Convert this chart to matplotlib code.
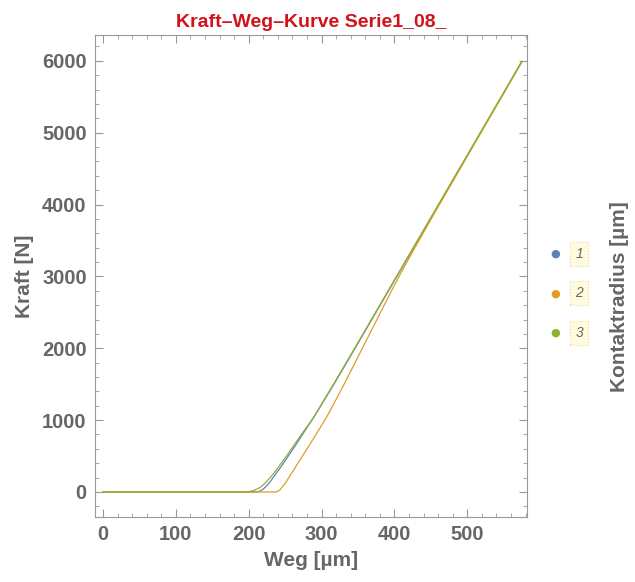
import matplotlib.pyplot as plt
from matplotlib.ticker import MultipleLocator

plt.rcParams['font.family'] = ['Liberation Sans', 'DejaVu Sans']

# Kraft-Weg-Kurven, Werte
weg_1 = [0, 100, 200, 212, 216, 220, 225, 230, 237, 245, 255, 265, 277, 290, 317, 346, 375, 409, 455, 504, 540, 575]
kraft_1 = [0, 0, 0, 0, 15, 40, 90, 150, 250, 360, 510, 660, 850, 1050, 1500, 2000, 2505, 3097, 3897, 4750, 5377, 5990]

weg_2 = [0, 100, 200, 237, 240, 243, 246, 250, 257, 265, 275, 285, 296, 308, 330, 353, 375, 395, 409, 431, 455, 504, 540, 575]
kraft_2 = [0, 0, 0, 0, 10, 30, 70, 120, 230, 360, 520, 680, 860, 1060, 1480, 1940, 2380, 2780, 3050, 3450, 3880, 4740, 5370, 5985]

weg_3 = [0, 100, 195, 200, 205, 210, 215, 220, 225, 232, 240, 250, 260, 273, 288, 317, 346, 375, 409, 455, 504, 540, 575]
kraft_3 = [0, 0, 0, 5, 15, 35, 60, 100, 150, 230, 335, 475, 620, 810, 1020, 1510, 2010, 2515, 3107, 3907, 4760, 5387, 5996]

serien = ["1", "2", "3"]
farben = ["#5E81B5", "#E19C24", "#8FB032"]

grau = "#666666"

fig = plt.figure(figsize=(6.35, 5.82), dpi=100)
ax = fig.add_axes([0.1496, 0.1117, 0.6803, 0.8282])

for w, k, c in zip([weg_1, weg_2, weg_3], [kraft_1, kraft_2, kraft_3], farben):
    ax.plot(w, k, color=c, lw=0.9)

ax.set_xlim(-11, 582)
ax.set_ylim(-348, 6360)
ax.xaxis.set_major_locator(MultipleLocator(100))
ax.xaxis.set_minor_locator(MultipleLocator(20))
ax.yaxis.set_major_locator(MultipleLocator(1000))
ax.yaxis.set_minor_locator(MultipleLocator(200))
ax.tick_params(which="both", direction="in", top=True, right=True, color="#999999")
ax.tick_params(which="major", length=6, width=0.8, labelsize=14.5, labelcolor=grau, pad=6)
ax.tick_params(which="minor", length=3, width=0.6)
for lbl in ax.get_xticklabels() + ax.get_yticklabels():
    lbl.set_fontweight("bold")
for s in ax.spines.values():
    s.set_color("#999999")
    s.set_linewidth(0.8)

ax.set_xlabel("Weg [µm]", fontsize=15, fontweight="bold", color=grau, labelpad=5)
ax.set_ylabel("Kraft [N]", fontsize=15, fontweight="bold", color=grau, labelpad=6)
ax.set_title("Kraft–Weg–Kurve Serie1_08_", fontsize=14, fontweight="bold", color="#D0131B", pad=6)

fig.text(0.975, 0.49, "Kontaktradius [µm]", rotation=90, fontsize=15, fontweight="bold",
         color=grau, ha="center", va="center")

# Legende rechts
for i, (name, c) in enumerate(zip(serien, farben)):
    y = 0.564 - i * 0.068
    fig.text(0.875, y, "●", color=c, fontsize=8, ha="center", va="center", family="DejaVu Sans")
    fig.text(0.912, y, name, fontsize=10, style="italic", color=grau, ha="center", va="center",
             bbox=dict(boxstyle="square,pad=0.35", fc="#FFFBDC", ec="#E8D9A0", ls=":", lw=0.8))

fig.savefig("out.png", dpi=100)
